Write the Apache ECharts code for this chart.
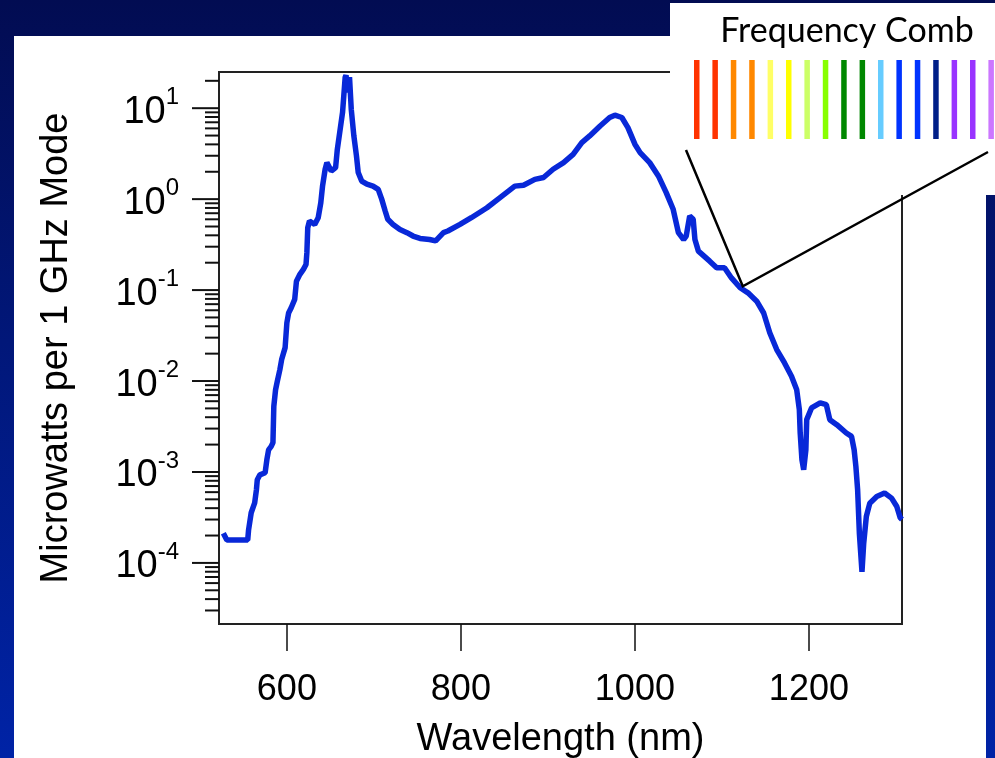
<!DOCTYPE html>
<html>
<head>
  <meta charset="utf-8">
  <script src="https://cdn.jsdelivr.net/npm/echarts@6.0.0/dist/echarts.min.js"></script>
  <style>
    html, body { margin: 0; padding: 0; }
    body {
      width: 995px; height: 758px; overflow: hidden; position: relative;
      background: linear-gradient(180deg, #020c52 0%, #011779 45%, #0023a6 100%);
    }
    #panel { position: absolute; left: 14px; top: 36px; width: 972px; height: 722px; background: #fff; }
    #chart { position: absolute; left: 0; top: 0; width: 995px; height: 758px; }
  </style>
</head>
<body>
  <div id="panel"></div>
  <div id="chart"></div>

  <script>
    // Spectrum (wavelength in nm, microwatts per 1 GHz mode)
    const wavelength = [
      527, 531, 555, 556, 559, 563, 565, 566, 569, 575, 577, 579, 582, 584, 585, 587, 589, 592, 594, 598,
      600, 602, 605, 609, 611, 615, 619, 622, 623, 624, 626, 632, 636, 639, 641, 644, 646, 651, 656, 658,
      661, 664, 667, 668, 670, 672, 674, 677, 680, 682, 686, 692, 699, 705, 709, 713, 716, 722, 730, 738,
      745, 753, 764, 771, 780, 785, 799, 812, 830, 845, 862, 872, 885, 895, 906, 918, 929, 939, 948, 960,
      971, 977, 985, 992, 1000, 1006, 1017, 1027, 1036, 1044, 1050, 1056, 1059, 1063, 1067, 1069, 1073, 1075, 1086, 1094,
      1103, 1111, 1121, 1130, 1140, 1148, 1155, 1163, 1172, 1180, 1186, 1189, 1190, 1192, 1194, 1196.5, 1197.5, 1203, 1213, 1220,
      1224, 1232, 1243, 1249, 1252, 1254, 1256, 1258, 1261, 1263, 1266, 1270, 1278, 1287, 1295, 1301, 1305, 1307
    ];
    const power = [
      2.12e-4, 1.79e-4, 1.79e-4, 2.31e-4, 3.56e-4, 4.58e-4, 6.37e-4, 8.2e-4, 9.3e-4, 9.8e-4, 1.36e-3, 1.75e-3, 1.91e-3, 2.1e-3, 5.26e-3, 8.0e-3, 9.9e-3, 1.34e-2, 1.72e-2, 2.33e-2,
      4.36e-2, 5.6e-2, 6.4e-2, 7.9e-2, 0.125, 0.149, 0.169, 0.191, 0.258, 0.485, 0.574, 0.527, 0.625, 0.914, 1.39, 2.13, 2.52, 2.04, 2.22, 3.53,
      5.62, 8.97, 21.8, 23.0, 14.9, 22.0, 9.75, 4.95, 2.98, 1.96, 1.58, 1.46, 1.39, 1.28, 1.0, 0.74, 0.60, 0.527, 0.464, 0.428,
      0.393, 0.37, 0.36, 0.348, 0.428, 0.446, 0.527, 0.625, 0.805, 1.04, 1.39, 1.42, 1.65, 1.73, 2.13, 2.52, 3.11, 4.19, 4.95, 6.38,
      7.9, 8.37, 7.9, 6.12, 4.02, 3.25, 2.52, 1.8, 1.18, 0.773, 0.428, 0.36, 0.393, 0.652, 0.60, 0.36, 0.268, 0.258, 0.208, 0.176,
      0.176, 0.136, 0.106, 0.0933, 0.0755, 0.056, 0.0339, 0.0222, 0.0158, 0.0113, 0.008, 0.00484, 0.00268, 0.00136, 0.00106, 0.00175, 0.00376, 0.00506, 0.00574, 0.0055,
      0.00376, 0.00331, 0.00268, 0.00246, 0.00175, 0.00115, 0.000637, 0.000212, 0.00008, 0.000165, 0.000324, 0.000454, 0.000537, 0.000586, 0.000516, 0.000417, 0.000313, 0.0003
    ];

    // Axes
    const xTicks = [600, 800, 1000, 1200];
    const xMin = 522, xMax = 1307;
    const yMin = 2.13e-5, yMax = 25;
    const yDecades = [-5, -4, -3, -2, -1, 0, 1];
    const yMinorSteps = [2, 3, 4, 5, 6, 7, 8, 9];

    // Frequency comb inset
    const combColors = [
      '#ff3300', '#ff3300', '#ff8800', '#ff8800', '#ffff66', '#ffff00', '#ccff66', '#88ff00', '#008800',
      '#008800', '#66ccff', '#0033ff', '#0033ff', '#001f88', '#9933ff', '#9933ff', '#cc77ff'
    ];

    // Tick marks for the log axis (decades + 2..9 minors)
    const yTickData = [];
    yDecades.forEach(d => {
      const base = Math.pow(10, d);
      if (base >= yMin && base <= yMax) yTickData.push([xMin, base, 1]);
      yMinorSteps.forEach(m => {
        const v = m * base;
        if (v >= yMin && v <= yMax) yTickData.push([xMin, v, 0]);
      });
    });

    const chart = echarts.init(document.getElementById('chart'), null, { renderer: 'canvas' });
    const FONT = '"Liberation Sans", Arial, sans-serif';

    const option = {
      animation: false,
      backgroundColor: 'transparent',
      grid: {
        left: 219, top: 72, right: 93, bottom: 134,
        outerBoundsMode: 'none', containLabel: false,
        show: true, borderColor: '#222', borderWidth: 2, backgroundColor: 'transparent'
      },
      xAxis: {
        type: 'value', min: xMin, max: xMax,
        name: 'Wavelength (nm)', nameLocation: 'middle', nameGap: 97,
        nameTextStyle: { fontSize: 38, color: '#000', fontFamily: FONT },
        axisLine: { show: false },
        axisTick: { show: true, customValues: xTicks, length: 27, lineStyle: { color: '#111', width: 1.5 } },
        axisLabel: {
          customValues: xTicks, fontSize: 36, color: '#000', fontFamily: FONT, margin: 48,
          formatter: v => String(v)
        },
        splitLine: { show: false }
      },
      yAxis: {
        type: 'log', logBase: 10, min: yMin, max: yMax,
        name: 'Microwatts per 1 GHz Mode', nameLocation: 'middle', nameGap: 143,
        nameTextStyle: { fontSize: 38, color: '#000', fontFamily: FONT },
        axisLine: { show: false },
        axisTick: { show: false },
        splitLine: { show: false },
        axisLabel: {
          margin: 40, showMinLabel: false, showMaxLabel: false,
          formatter: v => '{b|10}{s|' + Math.round(Math.log10(v)) + '}',
          rich: {
            b: { fontSize: 38, color: '#000', fontFamily: FONT, padding: [8, 0, 0, 0] },
            s: { fontSize: 24, color: '#000', fontFamily: FONT, verticalAlign: 'top' }
          }
        }
      },
      series: [
        {
          type: 'line',
          data: wavelength.map((w, i) => [w, power[i]]),
          showSymbol: false,
          lineStyle: { color: '#0828d8', width: 5.5 },
          clip: true,
          z: 3
        },
        {
          type: 'custom',
          clip: false,
          silent: true,
          data: yTickData,
          renderItem: (params, api) => {
            const p = api.coord([api.value(0), api.value(1)]);
            const len = api.value(2) ? 27 : 14;
            return {
              type: 'line',
              shape: { x1: p[0] - len, y1: p[1], x2: p[0], y2: p[1] },
              style: { stroke: '#111', lineWidth: 2 }
            };
          },
          z: 2
        }
      ]
    };
    chart.setOption(option);

    // Inset: white box, title, comb lines and zoom lines
    const apex = chart.convertToPixel({ gridIndex: 0 }, [1124, 0.11]);
    const graphics = [
      { type: 'rect', shape: { x: 670, y: 3, width: 325, height: 192 }, style: { fill: '#fff' }, z: 100 },
      {
        type: 'text', x: 847, y: 31, z: 101,
        style: { text: 'Frequency Comb', fill: '#000', font: '34px Lato, "Open Sans", sans-serif', align: 'center', verticalAlign: 'middle' }
      },
      {
        type: 'polyline', z: 101,
        shape: { points: [[686, 150], apex, [988, 152]] },
        style: { stroke: '#000', lineWidth: 2.5, fill: null }
      }
    ];
    combColors.forEach((c, i) => {
      graphics.push({
        type: 'rect', z: 101,
        shape: { x: 694 + i * 18.4, y: 60, width: 5.5, height: 79 },
        style: { fill: c }
      });
    });
    chart.setOption({ graphic: graphics });

    window.addEventListener('resize', chart.resize);
  </script>
</body>
</html>
